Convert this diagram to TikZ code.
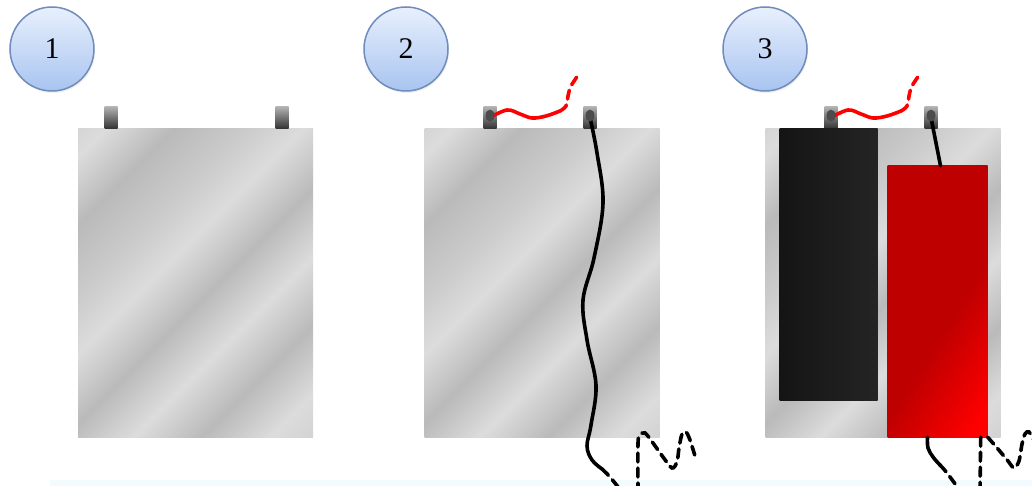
\documentclass[tikz,border=0pt]{standalone}
\usepackage{fontspec}
\setmainfont{Liberation Serif}
\usetikzlibrary{positioning,shadows}
\definecolor{mDark}{RGB}{186,186,186}
\definecolor{mMid}{RGB}{202,202,202}
\definecolor{mLight}{RGB}{220,220,220}
\definecolor{numTop}{RGB}{232,240,253}
\definecolor{numBot}{RGB}{168,196,240}
\definecolor{numLine}{RGB}{112,140,188}
\definecolor{plateRed}{RGB}{190,0,0}
\definecolor{plateDark}{RGB}{36,36,36}
\pgfdeclarehorizontalshading{metal}{100bp}{color(0bp)=(mDark); color(18bp)=(mLight); color(27bp)=(mDark); color(36bp)=(mMid); color(44bp)=(mLight); color(53bp)=(mDark); color(62bp)=(mLight); color(71bp)=(mDark); color(80bp)=(mLight); color(100bp)=(mDark)}
\pgfdeclarehorizontalshading{redplate}{100bp}{color(0bp)=(plateRed); color(56bp)=(plateRed); color(80bp)=(red); color(100bp)=(red)}
\tikzset{
  cell/.style={rectangle, inner sep=0, minimum width=235pt, minimum height=308pt, shading=metal, shading angle=-45},
  tab/.style={rectangle, inner sep=0, minimum width=13pt, minimum height=22pt, top color=gray!60, bottom color=black!80},
  num/.style={circle, inner sep=0, minimum size=84pt, draw=numLine, line width=1.5pt, top color=numTop, bottom color=numBot, font=\fontsize{30}{32}\selectfont, drop shadow={opacity=0.12, shadow xshift=1pt, shadow yshift=-2pt}},
  blob/.style={ellipse, inner sep=0, minimum width=9pt, minimum height=12pt, fill=black!70},
  wire/.style={line width=3.6pt, line cap=round},
  loose/.style={wire, dash pattern=on 9pt off 6pt}
}
\usetikzlibrary{shapes.geometric}

\begin{document}
\begin{tikzpicture}[x=1pt, y=-1pt]
	\useasboundingbox (0,0) rectangle (1032,486);
	\clip (0,0) rectangle (1032,486);
	\fill[cyan!5] (50,480) rectangle (1032,486);
	%
	\node[num] (numA) at (52,49) {1};
	\node[num] (numB) at (406,49) {2};
	\node[num] (numC) at (765,49) {3};
	%
	\node[cell] (cellA) at (195.5,283) {};
	\node[cell] (cellB) at (542,283) {};
	\node[cell] (cellC) at (883,283) {};
	\node[tab, above=0pt of cellA.north, xshift=-84.5pt] (tabA1) {};
	\node[tab, above=0pt of cellA.north, xshift=86.5pt] (tabA2) {};
	\node[tab, above=0pt of cellB.north, xshift=-52pt] (tabB1) {};
	\node[tab, above=0pt of cellB.north, xshift=48pt] (tabB2) {};
	\node[tab, above=0pt of cellC.north, xshift=-52pt] (tabC1) {};
	\node[tab, above=0pt of cellC.north, xshift=48pt] (tabC2) {};

	% second cell: leads
	\coordinate (breakB1) at (560,111);
	\coordinate (endB1) at (579,74);
	\coordinate (breakB2) at (602,469);
	\coordinate (endB2) at (622,492);
	\coordinate (startB3) at (638,492);
	\coordinate (endB3) at (695,456);
	\draw[wire, red] plot[smooth, tension=0.6] coordinates {(tabB1.center) (507,110) (520,114) (532,118) (546,116) (breakB1)};
	\draw[loose, red] plot[smooth, tension=0.6] coordinates {(breakB1) (566,106) (568,96) (571,86) (endB1)};
	\draw[wire] plot[smooth, tension=0.6] coordinates {(tabB2.center) (597,153) (603,203) (594,258) (583,300) (587,340) (596,385) (591,425) (587,446) (592,460) (breakB2)};
	\draw[loose] plot[smooth, tension=0.6] coordinates {(breakB2) (610,477) (endB2)};
	\draw[loose] plot[smooth, tension=0.5] coordinates {(startB3) (638,443) (640,435) (645,433) (653,443) (663,457) (672,468) (677,462) (679,448) (682,434) (686,432) (690,440) (endB3)};

	% third cell: plates and leads
	\coordinate (breakC1) at (901,111);
	\coordinate (endC1) at (920,74);
	\draw[wire, red] plot[smooth, tension=0.6] coordinates {(tabC1.center) (848,110) (861,114) (873,118) (887,116) (breakC1)};
	\draw[loose, red] plot[smooth, tension=0.6] coordinates {(breakC1) (907,106) (909,96) (912,86) (endC1)};
	\node[rectangle, inner sep=0, minimum width=98pt, minimum height=271pt, left color=black!92, right color=plateDark, anchor=north west] (minusC) at ([xshift=14pt]cellC.north west) {};
	\node[rectangle, inner sep=0, minimum width=100pt, minimum height=271pt, shading=redplate, shading angle=-32, anchor=south east] (plusC) at ([xshift=-13pt]cellC.south east) {};
	\draw[wire] (tabC2.center) -- ([xshift=3pt]plusC.north);
	\coordinate (breakC2) at (940,465);
	\coordinate (endC2) at (961,492);
	\coordinate (endC3) at (980,492);
	\coordinate (endC4) at (1035,442);
	\draw[wire] plot[smooth, tension=0.6] coordinates {([xshift=-10pt]plusC.south) (928,448) (933,457) (breakC2)};
	\draw[loose] plot[smooth, tension=0.6] coordinates {(breakC2) (947,473) (endC2)};
	\draw[loose] ([xshift=-7pt]plusC.south east) -- (endC3);
	\draw[loose] plot[smooth, tension=0.5] coordinates {(plusC.south east) (998,449) (1008,461) (1014,468) (1019,461) (1022,444) (1025,434) (1029,432) (endC4)};

	% lead ends on the tabs
	\foreach \t in {tabB1,tabB2,tabC1,tabC2}
		\node[blob] at ([yshift=2pt]\t.center) {};
\end{tikzpicture}
\end{document}
